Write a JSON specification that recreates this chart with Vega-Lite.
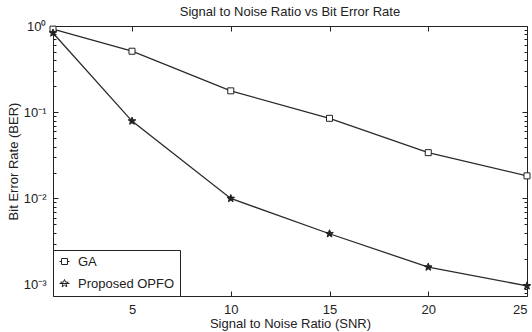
{
  "$schema": "https://vega.github.io/schema/vega-lite/v6.json",
  "width": 474,
  "height": 270,
  "autosize": "none",
  "padding": {"left": 53, "top": 26, "right": 5, "bottom": 36},
  "background": "white",
  "config": {
    "view": {"stroke": "#222", "strokeWidth": 1},
    "font": "Liberation Sans",
    "axis": {"grid": false, "domain": false, "labelColor": "#222", "titleColor": "#222", "tickColor": "#222"},
    "legend": {"title": null, "orient": "bottom-left", "offset": 0, "padding": 5, "strokeColor": "#222", "fillColor": "white", "cornerRadius": 0,
      "labelFontSize": 13, "labelColor": "#222", "labelOffset": 7, "rowPadding": 8, "symbolSize": 100, "symbolStrokeWidth": 1}
  },
  "title": {"text": "Signal to Noise Ratio vs Bit Error Rate", "fontSize": 13, "fontWeight": "normal", "offset": 1, "color": "#222"},
  "data": {"values": [
    {"snr": 1, "ber": 0.92, "series": "GA"},
    {"snr": 5, "ber": 0.51, "series": "GA"},
    {"snr": 10, "ber": 0.177, "series": "GA"},
    {"snr": 15, "ber": 0.085, "series": "GA"},
    {"snr": 20, "ber": 0.034, "series": "GA"},
    {"snr": 25, "ber": 0.0183, "series": "GA"},
    {"snr": 1, "ber": 0.83, "series": "Proposed OPFO"},
    {"snr": 5, "ber": 0.079, "series": "Proposed OPFO"},
    {"snr": 10, "ber": 0.0100, "series": "Proposed OPFO"},
    {"snr": 15, "ber": 0.0039, "series": "Proposed OPFO"},
    {"snr": 20, "ber": 0.0016, "series": "Proposed OPFO"},
    {"snr": 25, "ber": 0.00097, "series": "Proposed OPFO"}
  ]},
  "layer": [
    {
      "mark": {"type": "line", "color": "#2a2a2a", "strokeWidth": 1.3},
      "encoding": {
        "x": {"field": "snr", "type": "quantitative", "scale": {"domain": [1, 25], "nice": false, "zero": false},
          "axis": {"values": [5, 10, 15, 20, 25], "ticks": false, "labelPadding": 7, "labelFontSize": 13, "labelFlush": true,
            "title": "Signal to Noise Ratio (SNR)", "titleFontSize": 13, "titleFontWeight": "normal", "titlePadding": 1}},
        "y": {"field": "ber", "type": "quantitative", "scale": {"type": "log", "domain": [0.00074, 1], "nice": false, "zero": false},
          "axis": {"values": [0.001, 0.01, 0.1, 1], "ticks": false, "labelPadding": 7, "labelFontSize": 13, "labelFlush": false, "labelOverlap": false,
            "labelExpr": "datum.value >= 0.5 ? '10⁰' : datum.value >= 0.05 ? '10⁻¹' : datum.value >= 0.005 ? '10⁻²' : '10⁻³'",
            "title": "Bit Error Rate (BER)", "titleFontSize": 13, "titleFontWeight": "normal", "titlePadding": 3}},
        "detail": {"field": "series"}
      }
    },
    {
      "transform": [{"filter": "datum.series === 'GA'"}],
      "mark": {"type": "point", "shape": "M-0.6,-0.6H0.6V0.6H-0.6Z", "filled": true, "fill": "white", "strokeWidth": 1, "stroke": "#222", "opacity": 1, "size": 100},
      "encoding": {
        "x": {"field": "snr", "type": "quantitative", "axis": null},
        "y": {"field": "ber", "type": "quantitative", "axis": null}
      }
    },
    {
      "transform": [{"filter": "datum.series === 'Proposed OPFO'"}],
      "mark": {"type": "point", "shape": "M0,-0.8L0.206,-0.283L0.761,-0.247L0.333,0.108L0.47,0.647L0,0.35L-0.47,0.647L-0.333,0.108L-0.761,-0.247L-0.206,-0.283Z", "filled": true, "fill": "#222", "strokeWidth": 1, "stroke": "#222", "opacity": 1, "size": 100},
      "encoding": {
        "x": {"field": "snr", "type": "quantitative", "axis": null},
        "y": {"field": "ber", "type": "quantitative", "axis": null}
      }
    },
    {
      "mark": {"type": "point", "opacity": 0, "size": 100, "filled": true},
      "encoding": {
        "x": {"field": "snr", "type": "quantitative", "axis": null},
        "y": {"field": "ber", "type": "quantitative", "axis": null},
        "shape": {"field": "series", "type": "nominal",
          "scale": {"domain": ["GA", "Proposed OPFO"], "range": ["M-1,0H-0.6M0.6,0H1M-0.6,-0.6H0.6V0.6H-0.6Z", "M-1,0H1M0,-0.8L0.206,-0.283L0.761,-0.247L0.333,0.108L0.47,0.647L0,0.35L-0.47,0.647L-0.333,0.108L-0.761,-0.247L-0.206,-0.283Z"]}},
        "fill": {"field": "series", "type": "nominal", "scale": {"domain": ["GA", "Proposed OPFO"], "range": ["white", "#222"]}},
        "stroke": {"field": "series", "type": "nominal", "scale": {"domain": ["GA", "Proposed OPFO"], "range": ["#222", "#222"]}}
      }
    },
    {
      "mark": {"type": "point", "opacity": 0},
      "encoding": {
        "x": {"field": "snr", "type": "quantitative", "axis": {"orient": "top", "values": [5, 10, 15, 20, 25], "labels": false, "tickSize": -5, "title": null}},
        "y": {"field": "ber", "type": "quantitative", "axis": {"orient": "left", "values": [0.0008, 0.0009, 0.001, 0.002, 0.003, 0.004, 0.005, 0.006, 0.007, 0.008, 0.009, 0.01, 0.02, 0.03, 0.04, 0.05, 0.06, 0.07, 0.08, 0.09, 0.1, 0.2, 0.3, 0.4, 0.5, 0.6, 0.7, 0.8, 0.9, 1], "labels": false, "labelOverlap": false,
          "tickSize": {"condition": {"test": "abs(log(datum.value)/log(10) - round(log(datum.value)/log(10))) < 0.001", "value": -5}, "value": -3}, "title": null}}
      }
    },
    {
      "mark": {"type": "point", "opacity": 0},
      "encoding": {
        "x": {"field": "snr", "type": "quantitative", "axis": {"orient": "bottom", "values": [5, 10, 15, 20, 25], "labels": false, "tickSize": -5, "title": null}},
        "y": {"field": "ber", "type": "quantitative", "axis": {"orient": "right", "values": [0.0008, 0.0009, 0.001, 0.002, 0.003, 0.004, 0.005, 0.006, 0.007, 0.008, 0.009, 0.01, 0.02, 0.03, 0.04, 0.05, 0.06, 0.07, 0.08, 0.09, 0.1, 0.2, 0.3, 0.4, 0.5, 0.6, 0.7, 0.8, 0.9, 1], "labels": false, "labelOverlap": false,
          "tickSize": {"condition": {"test": "abs(log(datum.value)/log(10) - round(log(datum.value)/log(10))) < 0.001", "value": -5}, "value": -3}, "title": null}}
      }
    }
  ],
  "resolve": {"axis": {"x": "independent", "y": "independent"}}
}
